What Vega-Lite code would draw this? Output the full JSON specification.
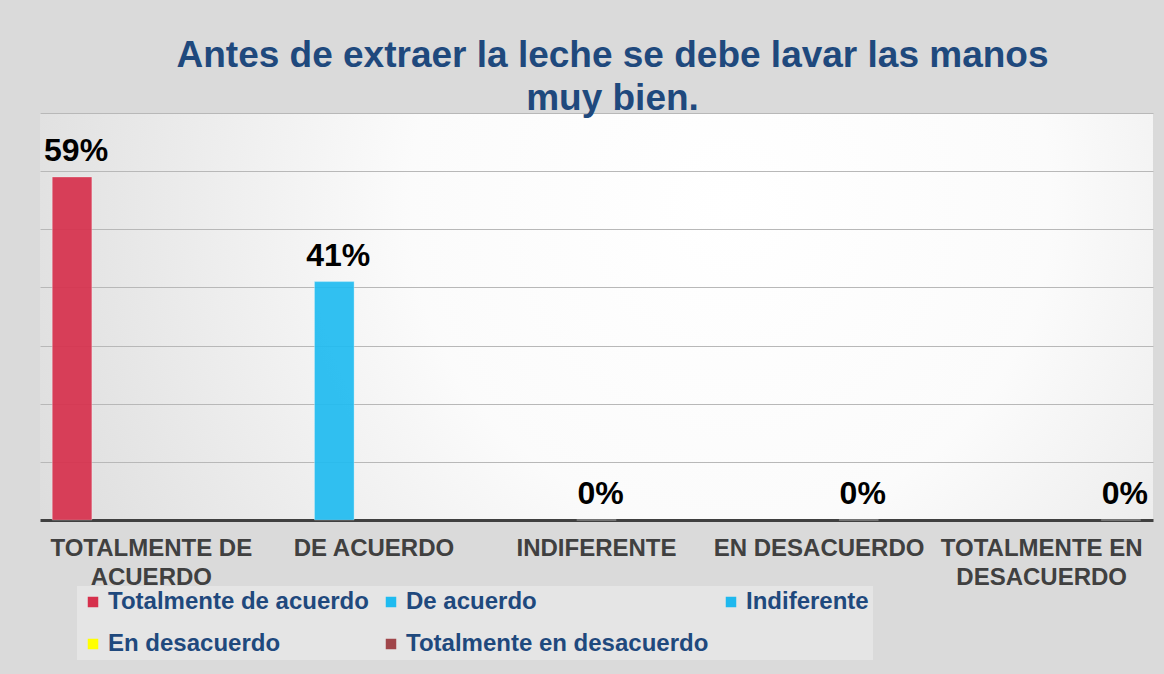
{
  "$schema": "https://vega.github.io/schema/vega-lite/v6.json",
  "width": 1113,
  "height": 407,
  "autosize": {"type": "none"},
  "padding": {"left": 40, "top": 113, "right": 11, "bottom": 154},
  "background": "#dadada",
  "title": {
    "text": ["Antes de extraer la leche se debe lavar las manos", "muy bien."],
    "color": "#1F497D",
    "font": "Liberation Sans",
    "fontSize": 37,
    "fontWeight": "bold",
    "lineHeight": 43,
    "anchor": "middle",
    "dx": 16,
    "dy": 5,
    "offset": 0
  },
  "data": {
    "values": [
      {"categoria": "TOTALMENTE DE ACUERDO", "serie": "Totalmente de acuerdo", "valor": 0.59},
      {"categoria": "DE ACUERDO", "serie": "De acuerdo", "valor": 0.41},
      {"categoria": "INDIFERENTE", "serie": "Indiferente", "valor": 0},
      {"categoria": "EN DESACUERDO", "serie": "En desacuerdo", "valor": 0},
      {"categoria": "TOTALMENTE EN DESACUERDO", "serie": "Totalmente en desacuerdo", "valor": 0}
    ]
  },
  "encoding": {
    "x": {
      "field": "categoria",
      "type": "nominal",
      "sort": null,
      "scale": {"paddingInner": 0.11, "paddingOuter": 0.055},
      "axis": {
        "title": null,
        "labelAngle": 0,
        "labelFont": "Liberation Sans",
        "labelFontSize": 24,
        "labelFontWeight": "bold",
        "labelColor": "#404040",
        "labelPadding": 16,
        "labelLineHeight": 29,
        "labelLimit": 400,
        "labelOverlap": false,
        "ticks": false,
        "domainColor": "#404040",
        "domainWidth": 3,
        "labelExpr": "datum.value == 'TOTALMENTE DE ACUERDO' ? ['TOTALMENTE DE', 'ACUERDO'] : datum.value == 'TOTALMENTE EN DESACUERDO' ? ['TOTALMENTE EN', 'DESACUERDO'] : datum.value"
      }
    },
    "xOffset": {
      "field": "serie",
      "type": "nominal",
      "sort": ["Totalmente de acuerdo", "De acuerdo", "Indiferente", "En desacuerdo", "Totalmente en desacuerdo"],
      "scale": {"paddingInner": 0, "paddingOuter": 0}
    },
    "y": {
      "field": "valor",
      "type": "quantitative",
      "scale": {"domain": [0, 0.7], "nice": false},
      "axis": {
        "title": null,
        "labels": false,
        "ticks": false,
        "domain": false,
        "values": [0.1, 0.2, 0.3, 0.4, 0.5, 0.6, 0.7],
        "gridColor": "#b8b8b8",
        "gridWidth": 1
      }
    }
  },
  "layer": [
    {
      "mark": {"type": "bar", "fillOpacity": 0.92, "stroke": "#ffffff", "strokeOpacity": 0.3, "strokeWidth": 1},
      "encoding": {
        "color": {
          "field": "serie",
          "type": "nominal",
          "sort": ["Totalmente de acuerdo", "De acuerdo", "Indiferente", "En desacuerdo", "Totalmente en desacuerdo"],
          "scale": {
            "domain": ["Totalmente de acuerdo", "De acuerdo", "Indiferente", "En desacuerdo", "Totalmente en desacuerdo"],
            "range": ["#D6304C", "#1FBBF0", "#1FB8EE", "#FFFF00", "#A0464A"]
          },
          "legend": {
            "title": null,
            "orient": "none",
            "legendX": 37,
            "legendY": 473,
            "direction": "horizontal",
            "columns": 3,
            "gridAlign": "each",
            "columnPadding": 10,
            "rowPadding": 18,
            "symbolType": "square",
            "symbolSize": 110,
            "symbolOpacity": 1,
            "symbolStrokeWidth": 0,
            "labelFont": "Liberation Sans",
            "labelFontSize": 24,
            "labelFontWeight": "bold",
            "labelColor": "#1F497D",
            "labelOffset": 3,
            "labelLimit": 400,
            "padding": 4,
            "fillColor": "rgba(255,255,255,0.3)"
          }
        }
      }
    },
    {
      "mark": {"type": "text", "baseline": "alphabetic", "dy": -16, "dx": 4, "font": "Liberation Sans", "fontSize": 32, "fontWeight": "bold", "color": "#000000"},
      "encoding": {
        "text": {"field": "valor", "type": "quantitative", "format": ".0%"}
      }
    }
  ],
  "config": {
    "view": {
      "stroke": null,
      "fill": {
        "gradient": "radial",
        "x1": 0.62, "y1": 0.4, "r1": 0,
        "x2": 0.62, "y2": 0.4, "r2": 0.72,
        "stops": [
          {"offset": 0, "color": "#ffffff"},
          {"offset": 0.4, "color": "#fbfbfb"},
          {"offset": 1, "color": "#dadada"}
        ]
      }
    }
  }
}
